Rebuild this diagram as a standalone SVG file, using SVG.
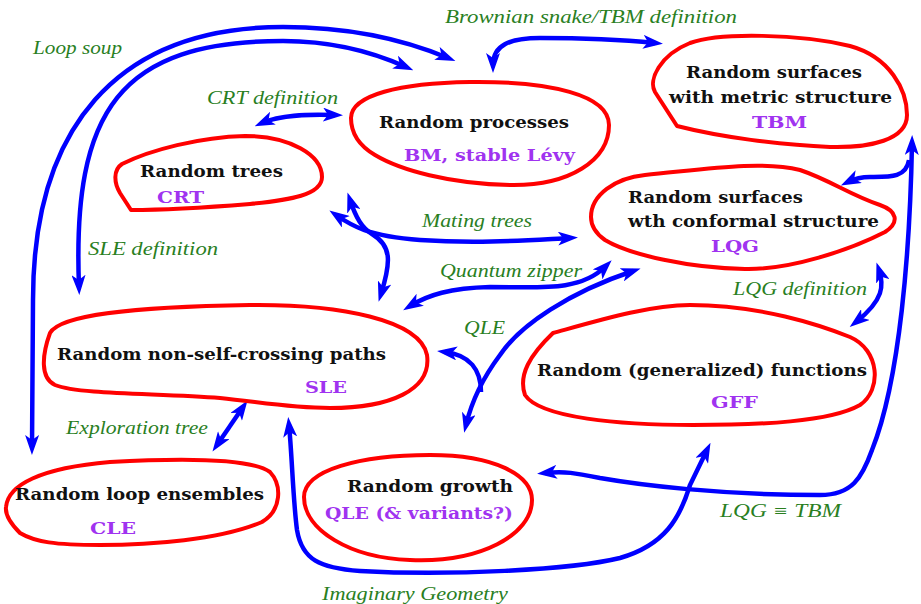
<svg xmlns="http://www.w3.org/2000/svg" width="921" height="604" viewBox="0 0 921 604">
<style>
.blob{fill:none;stroke:#ff0000;stroke-width:4;stroke-linejoin:round}
.c{fill:none;stroke:#0000ff;stroke-width:4.5;stroke-linecap:butt}
.t{fill:#111}
.p{fill:#a033f0}
.g{fill:#2a7f1f}
</style>
<defs>
<marker id="ah" viewBox="0 0 20 14" refX="12" refY="7" markerWidth="20" markerHeight="14" markerUnits="userSpaceOnUse" orient="auto-start-reverse">
<path d="M0,0 L20,7 L0,14 L5,7 Z" fill="#0000ff"/>
</marker>
</defs>
<rect width="921" height="604" fill="#ffffff"/>

<g id="connectors">
<path id="loop-soup" class="c" marker-start="url(#ah)" marker-end="url(#ah)" d="M 32,447 L 33,300 C 33,130 115,27 283,27 C 350,27 405,40 448,58"/>
<path id="sle-def" class="c" marker-start="url(#ah)" marker-end="url(#ah)" d="M 79,287 C 72,110 120,41 283,41 C 335,41 375,53 406,67"/>
<path id="crt-def" class="c" marker-start="url(#ah)" marker-end="url(#ah)" d="M 262,123 C 280,115 305,114 335,115"/>
<path id="snake" class="c" marker-start="url(#ah)" marker-end="url(#ah)" d="M 493,65 C 493,45 510,38 540,38 C 590,38 625,40 655,43"/>
<path id="mating1" class="c" marker-start="url(#ah)" marker-end="url(#ah)" d="M 336,215 C 352,226 368,236 420,240 C 480,244 530,240 570,238"/>
<path id="mating2" class="c" marker-start="url(#ah)" marker-end="url(#ah)" d="M 350,200 C 356,218 362,228 372,234 C 392,246 391,262 381,294"/>
<path id="zipper" class="c" marker-start="url(#ah)" marker-end="url(#ah)" d="M 410,306 C 428,295 450,288 490,287 C 540,287 580,292 606,266"/>
<path id="qle-long" class="c" marker-start="url(#ah)" marker-end="url(#ah)" d="M 633,271 C 570,292 520,325 500,355 C 485,375 472,400 466,425"/>
<path id="qle-short" class="c" marker-end="url(#ah)" d="M 481,392 C 481,370 470,355 445,352"/>
<path id="lqg-def" class="c" marker-start="url(#ah)" marker-end="url(#ah)" d="M 879,270 C 884,285 884,300 856,322"/>
<path id="lqg-tbm" class="c" marker-start="url(#ah)" marker-end="url(#ah)" d="M 912,143 C 910,250 900,380 872,450 C 862,478 852,495 820,495 C 720,495 640,485 600,478 C 575,473 565,471 545,473"/>
<path id="lqg-tbm-branch" class="c" marker-end="url(#ah)" d="M 909,160 C 906,178 890,177 870,177 C 860,177 854,179 848,182"/>
<path id="exploration" class="c" marker-start="url(#ah)" marker-end="url(#ah)" d="M 217,445 L 243,407"/>
<path id="imaginary" class="c" marker-start="url(#ah)" marker-end="url(#ah)" d="M 289,425 C 292,455 293,500 297,530 C 302,560 320,568 360,571 C 450,576 570,570 620,558 C 665,545 680,518 690,485 L 707,450"/>
</g>

<g id="labels" font-family="Liberation Serif, DejaVu Serif, serif" font-style="italic" font-size="18">
<text class="g" x="33" y="54" textLength="89" lengthAdjust="spacingAndGlyphs">Loop soup</text>
<text class="g" x="445" y="23" textLength="292" lengthAdjust="spacingAndGlyphs">Brownian snake/TBM definition</text>
<text class="g" x="207" y="104" textLength="131" lengthAdjust="spacingAndGlyphs">CRT definition</text>
<text class="g" x="88" y="255" textLength="130" lengthAdjust="spacingAndGlyphs">SLE definition</text>
<text class="g" x="422" y="227" textLength="110" lengthAdjust="spacingAndGlyphs">Mating trees</text>
<text class="g" x="440" y="277" textLength="142" lengthAdjust="spacingAndGlyphs">Quantum zipper</text>
<text class="g" x="464" y="334" textLength="41" lengthAdjust="spacingAndGlyphs">QLE</text>
<text class="g" x="733" y="295" textLength="134" lengthAdjust="spacingAndGlyphs">LQG definition</text>
<text class="g" x="66" y="434" textLength="142" lengthAdjust="spacingAndGlyphs">Exploration tree</text>
<text class="g" x="720" y="517" textLength="121" lengthAdjust="spacingAndGlyphs">LQG ≡ TBM</text>
<text class="g" x="322" y="600" textLength="186" lengthAdjust="spacingAndGlyphs">Imaginary Geometry</text>
</g>

<g id="nodes" font-family="DejaVu Serif, Liberation Serif, serif" font-weight="bold" font-size="17">
<g id="random-processes">
<path class="blob" d="M 351,118 C 351,95 400,83 470,82 C 550,81 609,95 609,125 C 609,160 570,186 510,185 C 450,184 400,170 375,155 C 358,145 351,132 351,118 Z"/>
<text class="t" x="379" y="128" textLength="190" lengthAdjust="spacingAndGlyphs">Random processes</text>
<text class="p" x="404" y="161" textLength="171" lengthAdjust="spacingAndGlyphs">BM, stable Lévy</text>
</g>

<g id="random-trees">
<path class="blob" d="M 131,210 L 120,193 C 114,183 113,170 122,164 C 150,150 200,137 245,136 C 290,136 322,155 322,177 C 322,195 290,200 250,204 C 200,208 160,210 131,210 Z"/>
<text class="t" x="140" y="177" textLength="143" lengthAdjust="spacingAndGlyphs">Random trees</text>
<text class="p" x="157" y="203" textLength="47" lengthAdjust="spacingAndGlyphs">CRT</text>
</g>

<g id="surfaces-metric">
<path class="blob" d="M 677,126 L 655,92 C 648,80 660,55 690,43 C 720,32 800,34 850,46 C 890,57 907,90 907,115 C 907,140 870,148 830,147 C 780,145 720,137 677,126 Z"/>
<text class="t" x="686" y="78" textLength="176" lengthAdjust="spacingAndGlyphs">Random surfaces</text>
<text class="t" x="669" y="103" textLength="223" lengthAdjust="spacingAndGlyphs">with metric structure</text>
<text class="p" x="752" y="128" textLength="55" lengthAdjust="spacingAndGlyphs">TBM</text>
</g>

<g id="surfaces-conformal">
<path class="blob" d="M 591,217 C 591,195 615,178 645,175 C 700,170 760,160 800,170 C 830,180 850,195 880,205 C 897,211 900,222 885,232 C 850,250 790,270 745,269 C 690,268 630,255 605,240 C 595,233 591,225 591,217 Z"/>
<text class="t" x="628" y="203" textLength="175" lengthAdjust="spacingAndGlyphs">Random surfaces</text>
<text class="t" x="628" y="227" textLength="251" lengthAdjust="spacingAndGlyphs">wth conformal structure</text>
<text class="p" x="711" y="252" textLength="48" lengthAdjust="spacingAndGlyphs">LQG</text>
</g>

<g id="paths-sle">
<path class="blob" d="M 50,333 C 60,315 130,307 250,305 C 340,304 420,320 427,355 C 432,390 390,408 330,408 C 290,408 260,402 220,398 C 160,393 80,395 55,385 C 40,378 42,355 50,333 Z"/>
<text class="t" x="57" y="360" textLength="329" lengthAdjust="spacingAndGlyphs">Random non-self-crossing paths</text>
<text class="p" x="305" y="393" textLength="42" lengthAdjust="spacingAndGlyphs">SLE</text>
</g>

<g id="functions-gff">
<path class="blob" d="M 553,333 C 600,320 650,305 690,305 C 760,305 820,325 850,337 C 880,350 882,390 860,405 C 830,422 760,425 693,425 C 620,425 540,418 525,395 C 518,375 530,355 553,333 Z"/>
<text class="t" x="537" y="376" textLength="330" lengthAdjust="spacingAndGlyphs">Random (generalized) functions</text>
<text class="p" x="711" y="408" textLength="47" lengthAdjust="spacingAndGlyphs">GFF</text>
</g>

<g id="loops-cle">
<path class="blob" d="M 6,507 C 8,485 40,468 110,462 C 180,458 250,458 270,472 C 282,485 282,510 262,522 C 220,540 150,545 100,545 C 55,545 35,542 20,533 C 12,525 5,515 6,507 Z"/>
<text class="t" x="15" y="500" textLength="249" lengthAdjust="spacingAndGlyphs">Random loop ensembles</text>
<text class="p" x="90" y="534" textLength="46" lengthAdjust="spacingAndGlyphs">CLE</text>
</g>

<g id="growth-qle">
<path class="blob" d="M 304,497 C 304,470 360,455 430,455 C 495,455 532,475 532,500 C 532,535 480,563 410,560 C 350,558 304,530 304,497 Z"/>
<text class="t" x="347" y="492" textLength="166" lengthAdjust="spacingAndGlyphs">Random growth</text>
<text class="p" x="325" y="519" textLength="188" lengthAdjust="spacingAndGlyphs">QLE (&amp; variants?)</text>
</g>
</g>
</svg>
